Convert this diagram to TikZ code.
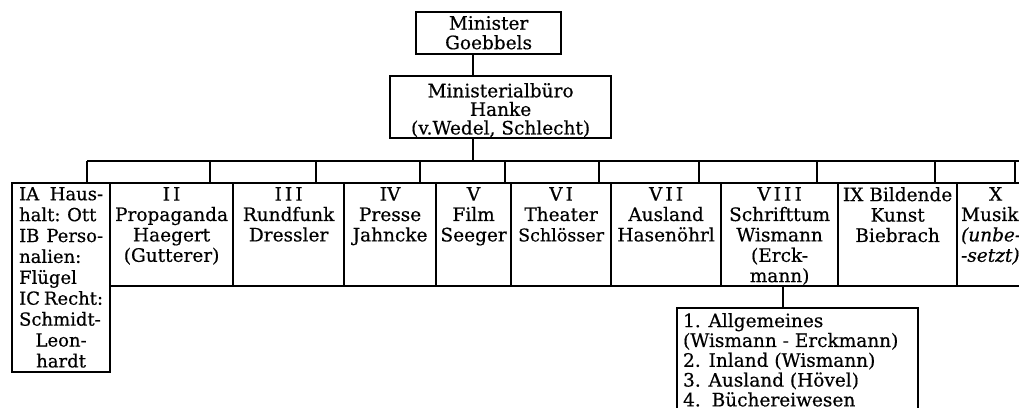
\documentclass[tikz,border=0pt]{standalone}
\usepackage{fontspec}
\setmainfont[FakeBold=0.5]{DejaVu Serif}
\begin{document}
\begin{tikzpicture}[x=1pt,y=-1pt,line width=2.2pt,
    caja/.style={draw,line width=2.2pt,inner sep=0pt,anchor=north west},
    texto/.style={anchor=north,align=center,inner sep=0pt,font=\fontsize{18.5}{20.4}\selectfont}]
  \useasboundingbox (0,0) rectangle (1019,407);
  \clip (0,0) rectangle (1019,407);

  % Ministro y oficina
  \node[caja, minimum width=145pt, minimum height=42pt] (min) at (415,11) {};
  \node[texto, font=\fontsize{18.5}{19.5}\selectfont] (tmin) at ([yshift=-4pt]min.north) {Minister\\Goebbels};
  \node[caja, minimum width=221pt, minimum height=62pt] (buro) at (389,75) {};
  \node[texto, font=\fontsize{18.5}{18.6}\selectfont] (tburo) at ([yshift=-7pt]buro.north) {Ministerialbüro\\Hanke\\(v.Wedel, Schlecht)};
  \coordinate (c0) at (473,161);
  \draw (c0 |- min.south) -- (c0 |- buro.north);
  \draw (c0 |- buro.south) -- (c0);

  % Abteilungen
  \node[caja, minimum width=98pt, minimum height=189pt] (IA) at (11,182) {};
  \node[caja, minimum width=123pt, minimum height=103pt] (II) at (109,182) {};
  \node[caja, minimum width=111pt, minimum height=103pt] (III) at (232,182) {};
  \node[caja, minimum width=92pt, minimum height=103pt] (IV) at (343,182) {};
  \node[caja, minimum width=75pt, minimum height=103pt] (V) at (435,182) {};
  \node[caja, minimum width=100pt, minimum height=103pt] (VI) at (510,182) {};
  \node[caja, minimum width=110pt, minimum height=103pt] (VII) at (610,182) {};
  \node[caja, minimum width=117pt, minimum height=103pt] (VIII) at (720,182) {};
  \node[caja, minimum width=119pt, minimum height=103pt] (IX) at (837,182) {};
  \node[caja, minimum width=80pt, minimum height=103pt] (X) at (956,182) {};

  \node[texto, anchor=north west, align=left, font=\fontsize{18}{20.9}\selectfont] (tIA) at ([xshift=7pt,yshift=-4pt]IA.north west)
    {\makebox[84pt][s]{IA Haus-}\\\makebox[72pt][s]{halt: Ott}\\\makebox[84pt][s]{IB Perso-}\\nalien:\\Flügel\\\makebox[84pt][s]{IC Recht:}\\Schmidt-\\\makebox[84pt]{Leon-}\\\makebox[84pt]{hardt}};
  \node[texto] (tII) at ([yshift=-4pt]II.north) {I\,I\\Propaganda\\Haegert\\(Gutterer)};
  \node[texto] (tIII) at ([yshift=-4pt]III.north) {I\,I\,I\\Rundfunk\\Dressler};
  \node[texto] (tIV) at ([yshift=-4pt]IV.north) {IV\\Presse\\Jahncke};
  \node[texto] (tV) at ([yshift=-4pt]V.north) {V\\Film\\Seeger};
  \node[texto] (tVI) at ([yshift=-4pt]VI.north) {V\,I\\Theater\\{\fontsize{17.5}{20.4}\selectfont Schlösser}};
  \node[texto] (tVII) at ([yshift=-4pt]VII.north) {V\,I\,I\\Ausland\\Hasenöhrl};
  \node[texto] (tVIII) at ([yshift=-4pt]VIII.north) {V\,I\,I\,I\\Schrifttum\\Wismann\\(Erck-\\mann)};
  \node[texto] (tIX) at ([yshift=-4pt]IX.north) {IX Bildende\\Kunst\\Biebrach};
  \node[texto, anchor=north west, align=left] (tX) at ([xshift=4pt,yshift=-4pt]X.north west) {\hspace*{28pt}X\\Musik\\\textit{(unbe-}\\\textit{-setzt)}};

  % Linea de reparto
  \coordinate (bi) at (87,161);
  \coordinate (bd) at (1030,161);
  \draw (bi) -- (bd);
  \foreach \x/\n in {87/IA,210/II,316/III,420/IV,505/V,599/VI,699/VII,817/VIII,935/IX,1015/X}
    {\coordinate (b\n) at (\x,161);
     \draw (b\n) -- (b\n |- \n.north);}

  % Unterabteilungen Schrifttum
  \node[caja, minimum width=241pt, minimum height=130pt] (sub) at (676,307) {};
  \coordinate (c8) at (783,285);
  \draw (c8) -- (c8 |- sub.north);
  \node[texto, anchor=north west, align=left, font=\fontsize{18.5}{19.8}\selectfont] (tsub) at ([xshift=6pt,yshift=-5pt]sub.north west)
    {1. Allgemeines\\(Wismann - Erckmann)\\2. Inland (Wismann)\\3. Ausland (Hövel)\\4. \,Büchereiwesen};
\end{tikzpicture}
\end{document}
